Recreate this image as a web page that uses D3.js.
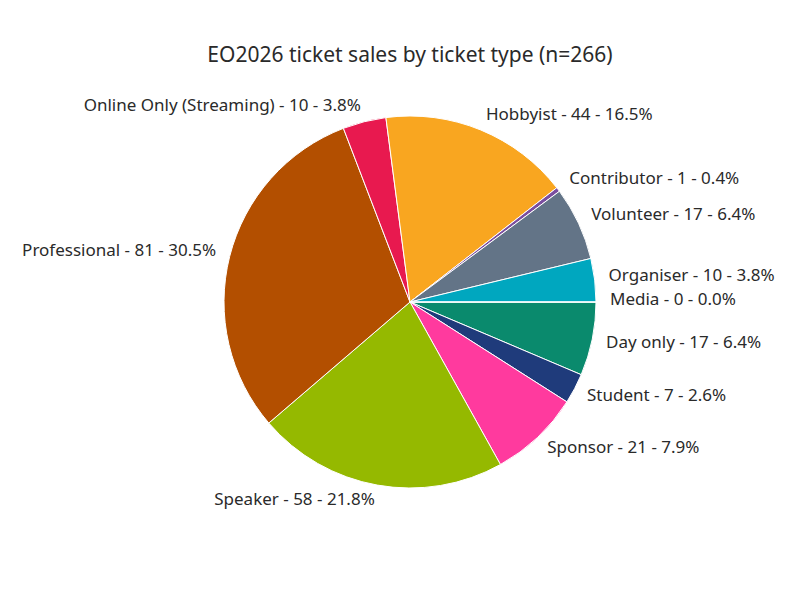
<!DOCTYPE html>
<html>
<head>
<meta charset="utf-8">
<script src="https://cdn.jsdelivr.net/npm/d3@7"></script>
<style>
  body { margin: 0; background: #fff; }
  text { font-family: "Source Sans Pro", "Noto Sans", sans-serif; fill: #2a2a2a; }
</style>
</head>
<body>
<svg id="chart" width="800" height="600"></svg>
<script>
// slices clockwise from 3 o'clock
var types = ['Day only', 'Student', 'Sponsor', 'Speaker', 'Professional', 'Online Only (Streaming)',
             'Hobbyist', 'Contributor', 'Volunteer', 'Organiser', 'Media'];
var counts = [17, 7, 21, 58, 81, 10, 44, 1, 17, 10, 0];
var colors = ['#0a8a6d', '#1f3b7b', '#ff3a9e', '#95b900', '#b34f00', '#e8194f',
              '#f9a620', '#7b4e9f', '#637487', '#00a7bf', '#cccccc'];

var total = d3.sum(counts);
var svg = d3.select('#chart');
var cx = 410, cy = 302, r = 186;

svg.append('text')
    .attr('x', 410).attr('y', 62)
    .attr('text-anchor', 'middle')
    .style('font-size', '21px')
    .text('EO2026 ticket sales by ticket type (n=' + total + ')');

var data = types.map(function(t, i) { return { type: t, count: counts[i], color: colors[i] }; });

var pie = d3.pie()
    .sort(null)
    .value(function(d) { return d.count; })
    .startAngle(Math.PI / 2)
    .endAngle(Math.PI / 2 + 2 * Math.PI);

var arc = d3.arc().innerRadius(0).outerRadius(r);
var g = svg.append('g').attr('transform', 'translate(' + cx + ',' + cy + ')');
var arcs = pie(data);

g.selectAll('path')
    .data(arcs)
    .enter()
    .append('path')
    .attr('d', arc)
    .attr('fill', function(d) { return d.data.color; })
    .attr('stroke', '#fff')
    .attr('stroke-width', 1);

// labels
g.selectAll('text.lbl')
    .data(arcs)
    .enter()
    .append('text')
    .attr('class', 'lbl')
    .each(function(d) {
        var a = (d.startAngle + d.endAngle) / 2;
        var x = 200 * Math.sin(a), y = -200 * Math.cos(a);
        d3.select(this)
            .attr('x', x).attr('y', y - (y < 0 ? 3 : 0))
            .attr('dy', '0.35em')
            .attr('text-anchor', x < -1 ? 'end' : 'start');
    })
    .style('font-size', '17px')
    .text(function(d) {
        return d.data.type + ' - ' + d.data.count + ' - ' + (d.data.count / total * 100).toFixed(1) + '%';
    });
</script>
</body>
</html>
